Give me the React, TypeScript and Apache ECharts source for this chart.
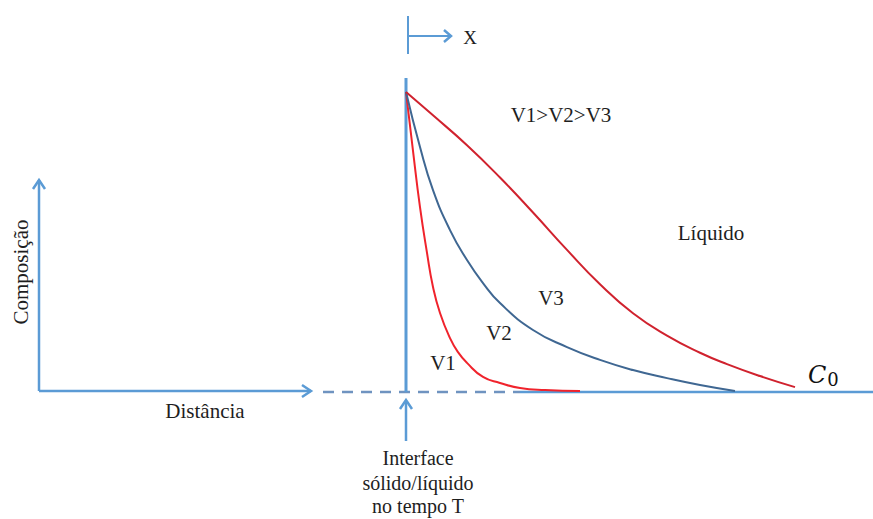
import React, { useEffect, useRef } from "react";
import * as echarts from "echarts";

// Distance from the solid/liquid interface (x) and solute composition above C0 (y, 0..1)
const v1X = [0, 0.7, 1.4, 2.1, 2.7, 3.4, 4.4, 5.2, 6.1, 7.7, 9.4, 11.4, 13.9, 17.4];
const v1Y = [1, 0.803, 0.615, 0.462, 0.348, 0.261, 0.177, 0.13, 0.094, 0.047, 0.027, 0.01, 0.003, 0];

const v2X = [0, 1.4, 2.7, 4.4, 6.1, 7.7, 9.4, 12.7, 16.1, 19.4, 22.7, 26.1, 29.4, 32.9];
const v2Y = [1, 0.816, 0.672, 0.538, 0.438, 0.361, 0.294, 0.204, 0.147, 0.104, 0.07, 0.043, 0.02, 0];

const v3X = [0, 2.7, 6.1, 9.4, 12.7, 16.1, 19.4, 22.7, 26.1, 29.4, 32.1, 35.4, 38.9];
const v3Y = [1, 0.922, 0.822, 0.714, 0.597, 0.472, 0.357, 0.26, 0.185, 0.128, 0.09, 0.05, 0.013];

const curveNames = ["V1", "V2", "V3"];
const curveColors = ["#f0232c", "#3f6792", "#d0222e"];

const AXIS_BLUE = "#5b9bd5";
const SERIF = "Liberation Serif";

const zip = (xs: number[], ys: number[]) => xs.map((x, i) => [x, ys[i]]);

export default function App() {
  const ref = useRef<HTMLDivElement>(null);

  useEffect(() => {
    if (!ref.current) return;
    const chart = echarts.init(ref.current, null, { renderer: "svg" });

    const line = (x1: number, y1: number, x2: number, y2: number, width = 2.5, color = AXIS_BLUE, dash?: number[]) => ({
      type: "line",
      shape: { x1, y1, x2, y2 },
      style: { stroke: color, lineWidth: width, lineDash: dash },
      silent: true,
    });
    const head = (pts: number[][], color = AXIS_BLUE) => ({
      type: "polyline",
      shape: { points: pts },
      style: { stroke: color, lineWidth: 2.5, fill: null },
      silent: true,
    });
    const label = (text: string, x: number, y: number, size = 21, extra: any = {}) => ({
      type: "text",
      x,
      y,
      style: {
        text,
        fill: "#1e1e1e",
        fontSize: size,
        fontFamily: SERIF,
        align: "center",
        verticalAlign: "middle",
      },
      silent: true,
      ...extra,
    });

    chart.setOption({
      animation: false,
      backgroundColor: "#ffffff",
      grid: { left: 0, right: 0, top: 0, bottom: 0 },
      xAxis: { type: "value", min: -40.6, max: 46.7, show: false },
      yAxis: { type: "value", min: -128 / 299, max: 391 / 299, show: false },
      series: [v1X, v2X, v3X].map((xs, i) => ({
        name: curveNames[i],
        type: "line",
        data: zip(xs, [v1Y, v2Y, v3Y][i]),
        smooth: 0.5,
        symbol: "none",
        lineStyle: { color: curveColors[i], width: 2 },
        z: 3,
      })),
      graphic: [
        // left composition / distance axes
        line(39, 391, 39, 180),
        head([[33, 189], [39, 180], [45, 189]]),
        line(39, 391, 311, 391),
        head([[302, 385], [311, 391], [302, 397]]),
        // solid region (dashed) and liquid baseline
        line(323, 392, 520, 392, 2.5, "#6f93c0", [11, 8]),
        line(520, 392, 873, 392, 2.5),
        // interface
        line(406, 78, 406, 392, 3),
        line(406, 441, 406, 401),
        head([[400, 409], [406, 400], [412, 409]]),
        // moving frame marker
        line(408, 16, 408, 54, 2),
        line(408, 36, 451, 36, 2),
        head([[444, 30], [451, 36], [444, 42]]),
        label("X", 470, 37, 19),
        label("V1>V2>V3", 561, 115),
        label("Líquido", 711, 233),
        label("V3", 551, 298),
        label("V2", 499, 333),
        label("V1", 443, 363),
        label("Distância", 205, 411),
        label("Composição", 21, 272, 21, { rotation: Math.PI / 2 }),
        label("Interface", 418, 458, 20),
        label("sólido/líquido", 418, 483, 20),
        label("no tempo T", 418, 506, 20),
        {
          type: "text",
          x: 808,
          y: 375,
          style: {
            text: "{c|C}{s|0}",
            verticalAlign: "middle",
            rich: {
              c: { fontStyle: "italic", fontSize: 24, fontFamily: "DejaVu Serif", fill: "#111" },
              s: { fontSize: 18, fontFamily: "DejaVu Serif", fill: "#111", padding: [9, 0, 0, 1] },
            },
          },
          silent: true,
        },
      ],
    });

    return () => chart.dispose();
  }, []);

  return (
    <div
      ref={ref}
      style={{ position: "absolute", left: 0, top: 0, width: 873, height: 519 }}
    />
  );
}
